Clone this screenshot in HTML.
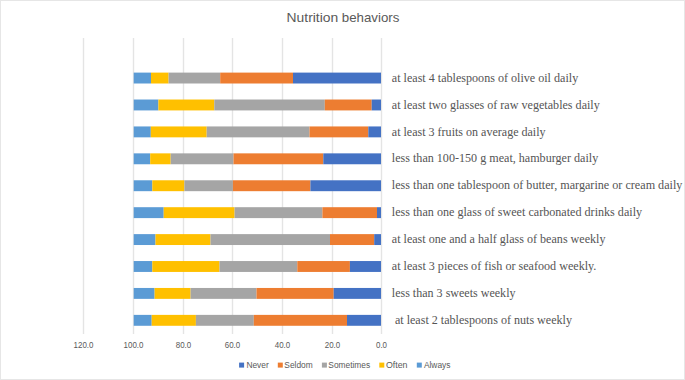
<!DOCTYPE html>
<html><head><meta charset="utf-8"><style>
html,body{margin:0;padding:0;background:#fff;}
body{width:685px;height:380px;overflow:hidden;position:relative;}
svg{position:absolute;left:0;top:0;}
</style></head><body>
<svg width="685" height="380" viewBox="0 0 685 380">
<rect x="0.5" y="0.5" width="684" height="379" fill="#fff" stroke="#e6e6e6" stroke-width="1"/>

<rect x="380.8" y="38" width="1.4" height="296" fill="#e4e4e4"/>
<rect x="331.8" y="38" width="1.4" height="296" fill="#e4e4e4"/>
<rect x="281.8" y="38" width="1.4" height="296" fill="#e4e4e4"/>
<rect x="231.8" y="38" width="1.4" height="296" fill="#e4e4e4"/>
<rect x="182.8" y="38" width="1.4" height="296" fill="#e4e4e4"/>
<rect x="132.8" y="38" width="1.4" height="296" fill="#e4e4e4"/>
<rect x="82.8" y="38" width="1.4" height="296" fill="#e4e4e4"/>
<text x="286.6" y="21.7" font-family="Liberation Sans" font-size="13.2" fill="#595959" textLength="51.6" lengthAdjust="spacingAndGlyphs">Nutrition</text>
<text x="341.8" y="21.7" font-family="Liberation Sans" font-size="13.2" fill="#595959" textLength="57.6" lengthAdjust="spacingAndGlyphs">behaviors</text>
<rect x="133.70" y="72.60" width="17.30" height="10.9" fill="#5B9BD5"/>
<rect x="151.00" y="72.60" width="17.60" height="10.9" fill="#FFC000"/>
<rect x="168.60" y="72.60" width="51.60" height="10.9" fill="#A5A5A5"/>
<rect x="220.20" y="72.60" width="72.80" height="10.9" fill="#ED7D31"/>
<rect x="293.00" y="72.60" width="88.00" height="10.9" fill="#4472C4"/>
<text x="391.8" y="81.75" font-family="Liberation Serif" font-size="11.7" fill="#555555" textLength="186.4" lengthAdjust="spacingAndGlyphs">at least 4 tablespoons of olive oil daily</text>
<rect x="133.70" y="99.52" width="24.70" height="10.9" fill="#5B9BD5"/>
<rect x="158.40" y="99.52" width="55.90" height="10.9" fill="#FFC000"/>
<rect x="214.30" y="99.52" width="110.50" height="10.9" fill="#A5A5A5"/>
<rect x="324.80" y="99.52" width="46.90" height="10.9" fill="#ED7D31"/>
<rect x="371.70" y="99.52" width="9.30" height="10.9" fill="#4472C4"/>
<text x="391.8" y="108.64" font-family="Liberation Serif" font-size="11.7" fill="#555555" textLength="208.0" lengthAdjust="spacingAndGlyphs">at least two glasses of raw vegetables daily</text>
<rect x="133.70" y="126.44" width="17.10" height="10.9" fill="#5B9BD5"/>
<rect x="150.80" y="126.44" width="55.90" height="10.9" fill="#FFC000"/>
<rect x="206.70" y="126.44" width="102.80" height="10.9" fill="#A5A5A5"/>
<rect x="309.50" y="126.44" width="58.80" height="10.9" fill="#ED7D31"/>
<rect x="368.30" y="126.44" width="12.70" height="10.9" fill="#4472C4"/>
<text x="391.8" y="135.53" font-family="Liberation Serif" font-size="11.7" fill="#555555" textLength="153.8" lengthAdjust="spacingAndGlyphs">at least 3 fruits on average daily</text>
<rect x="133.70" y="153.36" width="16.50" height="10.9" fill="#5B9BD5"/>
<rect x="150.20" y="153.36" width="20.50" height="10.9" fill="#FFC000"/>
<rect x="170.70" y="153.36" width="62.80" height="10.9" fill="#A5A5A5"/>
<rect x="233.50" y="153.36" width="89.80" height="10.9" fill="#ED7D31"/>
<rect x="323.30" y="153.36" width="57.70" height="10.9" fill="#4472C4"/>
<text x="391.8" y="162.42" font-family="Liberation Serif" font-size="11.7" fill="#555555" textLength="206.4" lengthAdjust="spacingAndGlyphs">less than 100-150 g meat, hamburger daily</text>
<rect x="133.70" y="180.28" width="18.60" height="10.9" fill="#5B9BD5"/>
<rect x="152.30" y="180.28" width="32.10" height="10.9" fill="#FFC000"/>
<rect x="184.40" y="180.28" width="48.50" height="10.9" fill="#A5A5A5"/>
<rect x="232.90" y="180.28" width="77.50" height="10.9" fill="#ED7D31"/>
<rect x="310.40" y="180.28" width="70.60" height="10.9" fill="#4472C4"/>
<text x="391.8" y="189.31" font-family="Liberation Serif" font-size="11.7" fill="#555555" textLength="290.6" lengthAdjust="spacingAndGlyphs">less than one tablespoon of butter, margarine or cream daily</text>
<rect x="133.70" y="207.20" width="30.00" height="10.9" fill="#5B9BD5"/>
<rect x="163.70" y="207.20" width="70.90" height="10.9" fill="#FFC000"/>
<rect x="234.60" y="207.20" width="87.80" height="10.9" fill="#A5A5A5"/>
<rect x="322.40" y="207.20" width="54.60" height="10.9" fill="#ED7D31"/>
<rect x="377.00" y="207.20" width="4.00" height="10.9" fill="#4472C4"/>
<text x="391.8" y="216.20" font-family="Liberation Serif" font-size="11.7" fill="#555555" textLength="250.3" lengthAdjust="spacingAndGlyphs">less than one glass of sweet carbonated drinks daily</text>
<rect x="133.70" y="234.12" width="21.80" height="10.9" fill="#5B9BD5"/>
<rect x="155.50" y="234.12" width="55.00" height="10.9" fill="#FFC000"/>
<rect x="210.50" y="234.12" width="119.50" height="10.9" fill="#A5A5A5"/>
<rect x="330.00" y="234.12" width="44.20" height="10.9" fill="#ED7D31"/>
<rect x="374.20" y="234.12" width="6.80" height="10.9" fill="#4472C4"/>
<text x="391.8" y="243.09" font-family="Liberation Serif" font-size="11.7" fill="#555555" textLength="213.7" lengthAdjust="spacingAndGlyphs">at least one and a half glass of beans weekly</text>
<rect x="133.70" y="261.04" width="18.60" height="10.9" fill="#5B9BD5"/>
<rect x="152.30" y="261.04" width="67.20" height="10.9" fill="#FFC000"/>
<rect x="219.50" y="261.04" width="77.80" height="10.9" fill="#A5A5A5"/>
<rect x="297.30" y="261.04" width="52.60" height="10.9" fill="#ED7D31"/>
<rect x="349.90" y="261.04" width="31.10" height="10.9" fill="#4472C4"/>
<text x="391.8" y="269.98" font-family="Liberation Serif" font-size="11.7" fill="#555555" textLength="204.6" lengthAdjust="spacingAndGlyphs">at least 3 pieces of fish or seafood weekly.</text>
<rect x="133.70" y="287.96" width="20.90" height="10.9" fill="#5B9BD5"/>
<rect x="154.60" y="287.96" width="36.00" height="10.9" fill="#FFC000"/>
<rect x="190.60" y="287.96" width="65.90" height="10.9" fill="#A5A5A5"/>
<rect x="256.50" y="287.96" width="77.20" height="10.9" fill="#ED7D31"/>
<rect x="333.70" y="287.96" width="47.30" height="10.9" fill="#4472C4"/>
<text x="391.8" y="296.87" font-family="Liberation Serif" font-size="11.7" fill="#555555" textLength="123.7" lengthAdjust="spacingAndGlyphs">less than 3 sweets weekly</text>
<rect x="133.70" y="314.88" width="18.00" height="10.9" fill="#5B9BD5"/>
<rect x="151.70" y="314.88" width="44.20" height="10.9" fill="#FFC000"/>
<rect x="195.90" y="314.88" width="57.90" height="10.9" fill="#A5A5A5"/>
<rect x="253.80" y="314.88" width="93.20" height="10.9" fill="#ED7D31"/>
<rect x="347.00" y="314.88" width="34.00" height="10.9" fill="#4472C4"/>
<text x="394.90000000000003" y="323.76" font-family="Liberation Serif" font-size="11.7" fill="#555555" textLength="177.1" lengthAdjust="spacingAndGlyphs">at least 2 tablespoons of nuts weekly</text>
<text x="381.50" y="347.9" font-family="Liberation Sans" font-size="8.8" fill="#595959" text-anchor="middle" textLength="11.03" lengthAdjust="spacingAndGlyphs">0.0</text>
<text x="332.50" y="347.9" font-family="Liberation Sans" font-size="8.8" fill="#595959" text-anchor="middle" textLength="15.45" lengthAdjust="spacingAndGlyphs">20.0</text>
<text x="282.50" y="347.9" font-family="Liberation Sans" font-size="8.8" fill="#595959" text-anchor="middle" textLength="15.45" lengthAdjust="spacingAndGlyphs">40.0</text>
<text x="232.50" y="347.9" font-family="Liberation Sans" font-size="8.8" fill="#595959" text-anchor="middle" textLength="15.45" lengthAdjust="spacingAndGlyphs">60.0</text>
<text x="183.50" y="347.9" font-family="Liberation Sans" font-size="8.8" fill="#595959" text-anchor="middle" textLength="15.45" lengthAdjust="spacingAndGlyphs">80.0</text>
<text x="133.50" y="347.9" font-family="Liberation Sans" font-size="8.8" fill="#595959" text-anchor="middle" textLength="19.86" lengthAdjust="spacingAndGlyphs">100.0</text>
<text x="83.50" y="347.9" font-family="Liberation Sans" font-size="8.8" fill="#595959" text-anchor="middle" textLength="19.86" lengthAdjust="spacingAndGlyphs">120.0</text>
<rect x="239.1" y="362.6" width="5" height="5" fill="#4472C4"/>
<text x="246.4" y="367.6" font-family="Liberation Sans" font-size="8.4" fill="#595959">Never</text>
<rect x="277.8" y="362.6" width="5" height="5" fill="#ED7D31"/>
<text x="284.29999999999995" y="367.6" font-family="Liberation Sans" font-size="8.4" fill="#595959">Seldom</text>
<rect x="321.9" y="362.6" width="5" height="5" fill="#A5A5A5"/>
<text x="328.29999999999995" y="367.6" font-family="Liberation Sans" font-size="8.4" fill="#595959">Sometimes</text>
<rect x="379.3" y="362.6" width="5" height="5" fill="#FFC000"/>
<text x="385.9" y="367.6" font-family="Liberation Sans" font-size="8.4" fill="#595959" textLength="21.6" lengthAdjust="spacingAndGlyphs">Often</text>
<rect x="416.8" y="362.6" width="5" height="5" fill="#5B9BD5"/>
<text x="423.9" y="367.6" font-family="Liberation Sans" font-size="8.4" fill="#595959">Always</text>
</svg></body></html>
